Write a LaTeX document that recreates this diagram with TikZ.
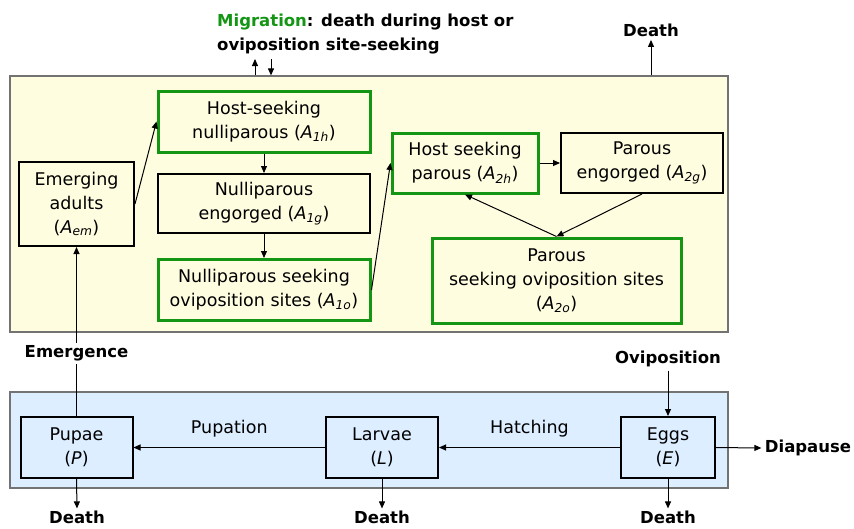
\documentclass[tikz,border=0pt]{standalone}
\usepackage{fontspec}
\setmainfont{DejaVu Sans}
\usetikzlibrary{arrows.meta}

\definecolor{stagegreen}{RGB}{20,150,20}
\definecolor{adultfill}{RGB}{255,253,224}
\definecolor{aquafill}{RGB}{220,238,255}

\newcommand{\compA}[1]{\textit{A}\textsubscript{\textit{#1}}}

\tikzset{
  stagebox/.style={draw=black, line width=2pt, align=center, inner sep=0pt,
    font=\fontsize{17.5}{24}\selectfont},
  greenbox/.style={stagebox, draw=stagegreen, line width=3pt},
  phasebox/.style={draw=black!55, line width=1.2pt, inner sep=0pt},
  flow/.style={line width=1pt, -{Triangle[length=7pt,width=6pt]}},
  boldlbl/.style={font=\fontsize{16.5}{24}\selectfont\bfseries, align=left},
  steplbl/.style={font=\fontsize{17.5}{24}\selectfont},
}

\begin{document}
\begin{tikzpicture}[x=1pt,y=-1pt]

    \useasboundingbox (0,0) rectangle (854,528);

    % adult and aquatic compartments
    \node[phasebox, fill=adultfill, minimum width=718pt, minimum height=256pt] (adultbox) at (369,204) {};
    \node[phasebox, fill=aquafill, minimum width=718pt, minimum height=96pt] (aquabox) at (369,440) {};

    % adult stages
    \node[stagebox, minimum width=115pt, minimum height=84pt] (em) at (76.5,204) {Emerging\\adults\\(\compA{em})};
    \node[greenbox, minimum width=212pt, minimum height=61pt] (a1h) at (264,121.5) {Host-seeking\\nulliparous (\compA{1h})};
    \node[stagebox, minimum width=212pt, minimum height=59pt] (a1g) at (264,203.5) {Nulliparous\\engorged (\compA{1g})};
    \node[greenbox, minimum width=212pt, minimum height=61pt] (a1o) at (264,290) {Nulliparous seeking\\oviposition sites (\compA{1o})};
    \node[greenbox, minimum width=146pt, minimum height=60pt] (a2h) at (465,163) {Host seeking\\parous (\compA{2h})};
    \node[stagebox, minimum width=162pt, minimum height=60pt] (a2g) at (642,163) {Parous\\engorged (\compA{2g})};
    \node[greenbox, minimum width=249pt, minimum height=85pt] (a2o) at (556.5,280.5) {Parous\\seeking oviposition sites\\(\compA{2o})};

    % aquatic stages
    \node[stagebox, minimum width=112pt, minimum height=61pt] (P) at (76.5,447.5) {Pupae\\(\textit{P})};
    \node[stagebox, minimum width=112pt, minimum height=61pt] (L) at (382,447.5) {Larvae\\(\textit{L})};
    \node[stagebox, minimum width=94pt, minimum height=61pt] (E) at (668,447.5) {Eggs\\(\textit{E})};

    % outside labels
    \node[boldlbl, anchor=west, inner sep=0pt] (mig) at (217,34) {\textcolor{stagegreen}{Migration}: death during host or\\oviposition site-seeking};
    \node[boldlbl] (dtop) at (651,30) {Death};
    \node[boldlbl] (ovi) at (668,359) {Oviposition};
    \node[boldlbl] (dia) at (808,448) {Diapause};
    \node[boldlbl, inner sep=2pt] (dp) at (77,517) {Death};
    \node[boldlbl, inner sep=2pt] (dl) at (382,517) {Death};
    \node[boldlbl, inner sep=2pt] (de) at (668,517) {Death};

    \coordinate (migout) at (255,59);
    \coordinate (migin) at (271,59);

    % gonotrophic cycle
    \draw[flow] (em.east) -- (a1h.west);
    \draw[flow] (a1h) -- (a1g);
    \draw[flow] (a1g) -- (a1o);
    \draw[flow] (a1o.east) -- (a2h.west);
    \draw[flow] (a2h) -- (a2g);
    \draw[flow] (a2g.south) -- (a2o.north);
    \draw[flow] (a2o.north) -- (a2h.south);

    % migration and adult death
    \draw[flow] (migout |- adultbox.north) -- (migout);
    \draw[flow] (migin) -- (migin |- adultbox.north);
    \draw[flow] (dtop |- adultbox.north) -- (dtop.south);

    % development
    \draw[flow] (E.west) -- node[steplbl, above=7pt] (hat) {Hatching} (L.east);
    \draw[flow] (L.west) -- node[steplbl, above=7pt] (pup) {Pupation} (P.east);
    \draw[flow] (P.north) -- node[boldlbl, pos=0.37, fill=white, inner sep=3pt] (emg) {Emergence} (em.south);
    \draw[flow] (ovi) -- (E.north);
    \draw[flow] (E.east) -- (dia.west);

    % aquatic death
    \draw[flow] (P.south) -- (dp.north);
    \draw[flow] (L.south) -- (dl.north);
    \draw[flow] (E.south) -- (de.north);

\end{tikzpicture}
\end{document}
